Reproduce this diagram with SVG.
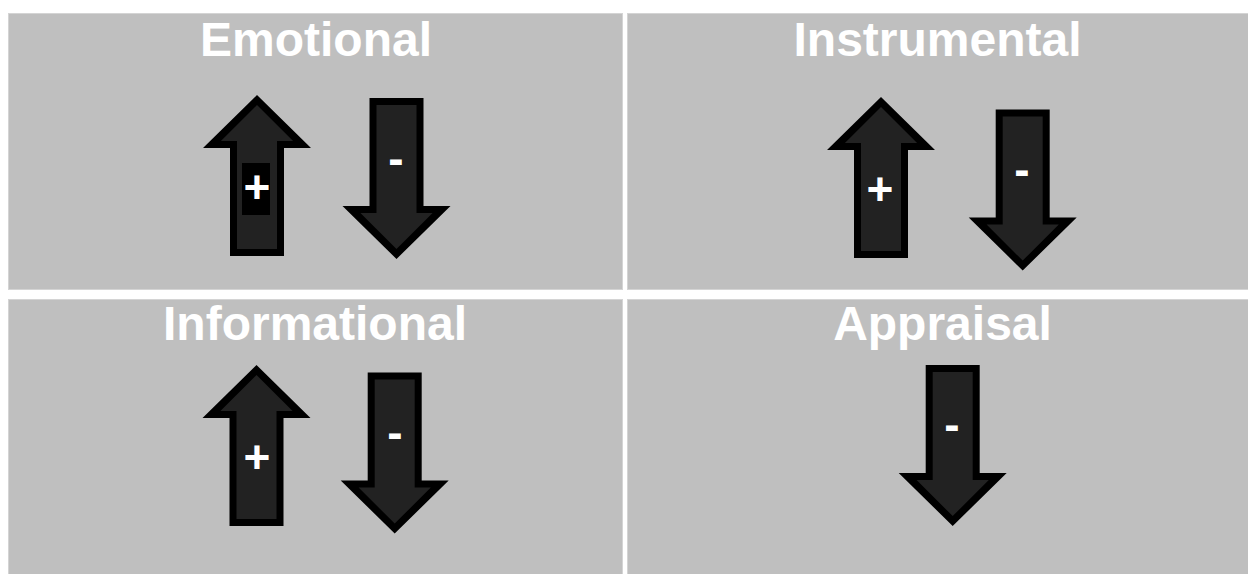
<svg xmlns="http://www.w3.org/2000/svg" xmlns:xlink="http://www.w3.org/1999/xlink" width="1248" height="574" viewBox="0 0 1248 574">
  <style>
    .panel { fill: #bfbfbf; stroke: #d4d4d4; stroke-width: 1; }
    .title { font-family: "Liberation Sans", Arial, sans-serif; font-weight: bold; font-size: 48px; fill: #ffffff; text-anchor: middle; }
    .sign { font-family: "Liberation Sans", Arial, sans-serif; font-weight: bold; font-size: 46px; fill: #ffffff; text-anchor: middle; }
    .outline { fill: #000000; }
    .body { fill: #222222; }
  </style>
  <defs>
    <!-- block arrow pointing up, tip at the origin -->
    <g id="arrowUp">
      <polygon class="outline" points="0,0 54,53 27,53 27,161 -27,161 -27,53 -54,53"/>
      <polygon class="body" points="0,9.9 36.1,46 20,46 20,154 -20,154 -20,46 -36.1,46"/>
    </g>
  </defs>

  <rect width="1248" height="574" fill="#ffffff"/>

  <!-- Emotional -->
  <g id="emotional">
    <rect class="panel" x="8.5" y="13.5" width="614" height="276"/>
    <text class="title" x="316" y="56">Emotional</text>
    <use xlink:href="#arrowUp" transform="translate(257,95)"/>
    <rect x="242" y="163" width="28" height="52" fill="#000000"/>
    <text class="sign" x="257" y="203">+</text>
    <use xlink:href="#arrowUp" transform="translate(396.5,259) scale(1,-1)"/>
    <text class="sign" x="396" y="174">-</text>
  </g>

  <!-- Instrumental -->
  <g id="instrumental">
    <rect class="panel" x="627.5" y="13.5" width="621" height="276"/>
    <text class="title" x="937.5" y="56">Instrumental</text>
    <use xlink:href="#arrowUp" transform="translate(881,97)"/>
    <text class="sign" x="880" y="205">+</text>
    <use xlink:href="#arrowUp" transform="translate(1022.7,270.5) scale(1,-1)"/>
    <text class="sign" x="1022" y="185">-</text>
  </g>

  <!-- Informational -->
  <g id="informational">
    <rect class="panel" x="8.5" y="299.5" width="614" height="275"/>
    <text class="title" x="315" y="340">Informational</text>
    <use xlink:href="#arrowUp" transform="translate(256.5,365)"/>
    <text class="sign" x="257" y="473">+</text>
    <use xlink:href="#arrowUp" transform="translate(394.7,533.5) scale(1,-1)"/>
    <text class="sign" x="395" y="448">-</text>
  </g>

  <!-- Appraisal -->
  <g id="appraisal">
    <rect class="panel" x="627.5" y="299.5" width="621" height="275"/>
    <text class="title" x="942.5" y="340">Appraisal</text>
    <use xlink:href="#arrowUp" transform="translate(952.7,526) scale(1,-1)"/>
    <text class="sign" x="952" y="440">-</text>
  </g>

  <g id="connectors"/>
</svg>
